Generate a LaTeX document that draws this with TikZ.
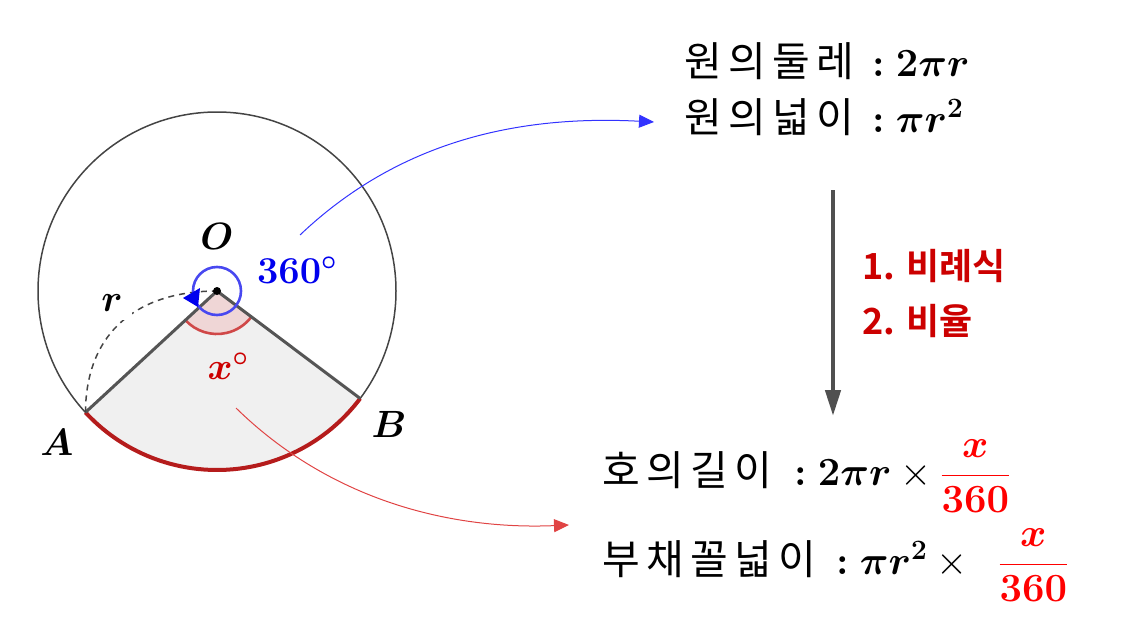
\RequirePackage{fix-cm}
\documentclass[tikz,border=0pt]{standalone}
\usepackage{amsmath,bm}
\usepackage{fontspec}
\newfontfamily\kr{Noto Sans CJK KR}
\newfontfamily\krb{Noto Sans CJK KR Bold}
\usetikzlibrary{arrows.meta,calc}
\definecolor{circgray}{HTML}{444444}
\definecolor{sidegray}{HTML}{555555}
\definecolor{secfill}{HTML}{F0F0F0}
\definecolor{arcred}{HTML}{B51C1C}
\definecolor{angred}{HTML}{D04848}
\definecolor{angfill}{HTML}{EFD6D6}
\definecolor{bluec}{HTML}{4848F0}
\definecolor{bluetext}{HTML}{0000EE}
\definecolor{bluearr}{HTML}{3333FF}
\definecolor{redtext}{HTML}{CC0000}
\definecolor{redarr}{HTML}{E04444}
\definecolor{fracred}{HTML}{FF0000}
\definecolor{arrgray}{HTML}{505050}
\newcommand{\kc}[1]{\makebox[44pt][l]{\fontsize{41}{48}\selectfont\kr #1}}
\tikzset{
  big/.style={font=\fontsize{40}{48}\selectfont, inner sep=0pt, anchor=base west},
  lbl/.style={font=\fontsize{38}{45}\selectfont, inner sep=1pt},
  redlbl/.style={font=\fontsize{36}{43}\selectfont\krb, text=redtext, inner sep=0pt, anchor=base west},
  thinarrow/.style={line width=1pt, -{Triangle[length=15pt,width=13pt]}},
}
\begin{document}
\begin{tikzpicture}[x=1pt,y=-1pt]
\useasboundingbox (0,0) rectangle (1124,642);
\coordinate (ctr) at (217,291);
\coordinate (A) at ($(ctr)+(137.3:179)$);
\coordinate (B) at ($(ctr)+(36.9:179)$);
% sector
\fill[secfill] (ctr) -- (A) arc[start angle=137.3,end angle=36.9,radius=179] -- cycle;
\fill[angfill] (ctr) -- ($(ctr)+(137.3:43)$) arc[start angle=137.3,end angle=36.9,radius=43] -- cycle;
\draw[angred, line width=2.6pt] ($(ctr)+(137.3:43)$) arc[start angle=137.3,end angle=36.9,radius=43];
% circle
\draw[circgray, line width=1.5pt] (ctr) circle[radius=179];
\draw[arcred, line width=4pt] (A) arc[start angle=137.3,end angle=36.9,radius=179];
\draw[sidegray, line width=3pt, line join=round] (A) -- (ctr) -- (B);
% dashed radius arc
\draw[circgray, line width=1.5pt, dash pattern=on 6pt off 5pt] (A) .. controls (86,330) and (140,291) .. (ctr);
\node[lbl, fill=white, inner sep=9pt] (rl) at (112,303) {$\bm{r}$};
% blue full angle
\draw[bluec, line width=2.6pt] (ctr) circle[radius=24];
\fill[bluetext] (183,298) -- (200,288) -- (198,307) -- cycle;
\fill[black] (ctr) circle[radius=4];
% labels
\node[lbl] (Ol) at (217,236) {$\bm{O}$};
\node[lbl, text=bluetext] (deg) at (297,270) {$\bm{360^\circ}$};
\node[lbl, text=redtext] (xl) at (228,366) {$\bm{x^\circ}$};
\node[lbl] (Al) at (57,442) {$\bm{A}$};
\node[lbl] (Bl) at (389,424) {$\bm{B}$};
% formulas
\node[big] (l1) at (684,77) {\kc{원}\kc{의}\kc{둘}\kc{레}\hspace{12pt}$\bm{:2\pi r}$};
\node[big] (l2) at (684,132) {\kc{원}\kc{의}\kc{넓}\kc{이}\hspace{12pt}$\bm{:\pi r^2}$};
\node[big] (l3) at (602,485) {\kc{호}\kc{의}\kc{길}\kc{이}\hspace{16pt}$\bm{:2\pi r}\times\color{fracred}\dfrac{\bm{x}}{\bm{360}}$};
\node[big] (l4) at (602,574) {\kc{부}\kc{채}\kc{꼴}\kc{넓}\kc{이}\hspace{14pt}$\bm{:\pi r^2}\times\;\;\color{fracred}\dfrac{\bm{x}}{\bm{360}}$};
\node[redlbl] (m1) at (862,279) {1. 비례식};
\node[redlbl] (m2) at (862,334) {2. 비율};
% arrows
\coordinate (bs) at (300,235);
\coordinate (be) at (654,122);
\draw[bluearr, thinarrow] (bs) .. controls (400,140) and (520,115) .. (be);
\coordinate (rs) at (236,408);
\coordinate (re) at (569,525);
\draw[redarr, thinarrow] (rs) .. controls (330,500) and (450,530) .. (re);
\coordinate (gs) at (833,190);
\coordinate (ge) at (833,416);
\draw[arrgray, line width=4.5pt, -{Triangle[length=26pt,width=15pt]}] (gs) -- (ge);
\end{tikzpicture}
\end{document}
